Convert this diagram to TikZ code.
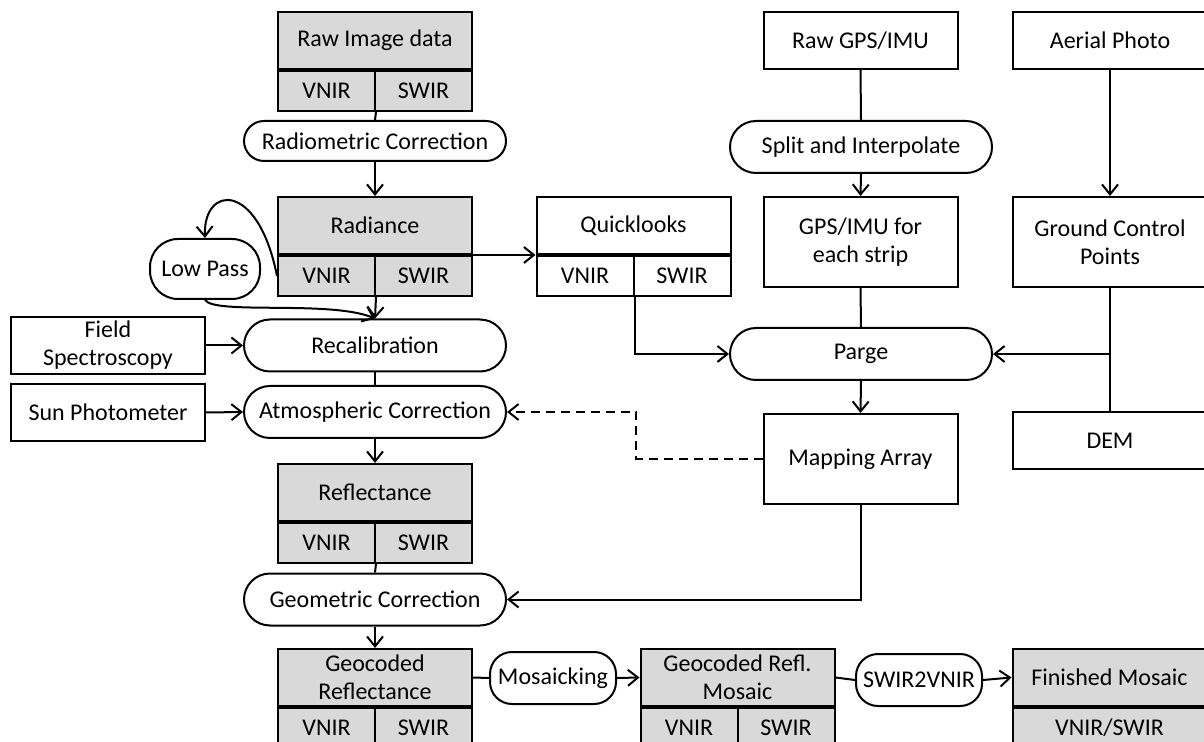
\documentclass[tikz,border=0pt]{standalone}
\usepackage{fontspec}
\setmainfont{Carlito}
\usetikzlibrary{arrows.meta,positioning}

\definecolor{bandgray}{HTML}{D9D9D9}
\tikzset{
  box/.style={draw,line width=1pt,minimum width=97pt,minimum height=28.5pt,inner sep=1pt,align=center},
  tallbox/.style={box,minimum height=45pt},
  half/.style={box,minimum width=48.5pt,minimum height=20pt},
  proc/.style={draw,line width=1pt,rounded corners=13pt,minimum width=131pt,minimum height=26pt,inner sep=1pt,align=center},
  smallproc/.style={proc,rounded corners=11pt,minimum width=63pt},
  arr/.style={line width=1pt,-{Straight Barb[length=5pt,width=8pt]}},
  link/.style={line width=1pt},
}

\begin{document}
\begin{tikzpicture}[x=0.5pt,y=-0.5pt,font=\fontsize{12}{14}\selectfont]
\clip (0,0) rectangle (1204,742);

% image chain
\node[box,fill=bandgray] (raw) at (375,40.5) {Raw Image data};
\node[proc,minimum height=20pt,rounded corners=10pt] (radcor) at (375,141) {Radiometric Correction};
\node[box,fill=bandgray] (rad) at (375,225.5) {Radiance};
\node[smallproc,minimum width=55pt,minimum height=30pt,rounded corners=14pt] (lp) at (205,269) {Low Pass};
\node[proc] (recal) at (375,345.5) {Recalibration};
\node[proc] (atmos) at (375,412) {Atmospheric Correction};
\node[box,fill=bandgray] (refl) at (375,492.5) {Reflectance};
\node[proc] (geo) at (375,599.5) {Geometric Correction};
\node[box,fill=bandgray] (georefl) at (375,677.5) {Geocoded\\Reflectance};
\node[smallproc] (mosaicking) at (553,678) {Mosaicking};
\node[box,fill=bandgray] (mosaic) at (737.5,677.5) {Geocoded Refl.\\Mosaic};
\node[smallproc] (s2v) at (919,680) {SWIR2VNIR};
\node[box,fill=bandgray] (fin) at (1109.5,677.5) {Finished Mosaic};
\node[box,fill=bandgray,minimum height=20pt,anchor=north] (fin-vs) at (fin.south) {VNIR/SWIR};

\foreach \n in {raw,rad,refl,georefl,mosaic} {
  \node[half,fill=bandgray,anchor=north west] (\n-v) at (\n.south west) {VNIR};
  \node[half,fill=bandgray,anchor=north east] (\n-s) at (\n.south east) {SWIR};
}

% ground data
\node[box] (field) at (108,345.5) {Field\\Spectroscopy};
\node[box] (sun) at (108,412.5) {Sun Photometer};

% navigation chain
\node[box] (ql) at (633.5,225.5) {Quicklooks};
\node[half,anchor=north west] (ql-v) at (ql.south west) {VNIR};
\node[half,anchor=north east] (ql-s) at (ql.south east) {SWIR};
\node[box] (rawgps) at (860.5,40.5) {Raw GPS/IMU};
\node[proc] (split) at (861,147) {Split and Interpolate};
\node[tallbox] (strip) at (860.5,242) {GPS/IMU for\\each strip};
\node[proc] (parge) at (861,354) {Parge};
\node[tallbox] (map) at (860.5,459) {Mapping Array};
\node[box] (aerial) at (1110,40.5) {Aerial Photo};
\node[tallbox] (gcp) at (1110,242) {Ground Control\\Points};
\node[box] (dem) at (1110,440.5) {DEM};

\draw[link] (raw-v.south east) -- (radcor.north);
\draw[arr] (radcor.south) -- (rad.north);
\draw[arr] (rad-v.west) .. controls (258,180) and (203,185) .. (lp.north);
\draw[arr] (lp.south) .. controls (215,315) and (330,300) .. (recal.north);
\draw[arr] (rad-v.south east) -- (recal.north);
\draw[arr] (rad-s.north east) -- (ql-v.north west);
\draw[arr] (field.east) -- (recal.west);
\draw[link] (recal.south) -- (atmos.north);
\draw[arr] (sun.east) -- (atmos.west);
\draw[arr] (atmos.south) -- (refl.north);
\draw[link] (refl-v.south east) -- (geo.north);
\draw[arr] (geo.south) -- (georefl.north);
\draw[link] (georefl.east) -- (mosaicking.west);
\draw[arr] (mosaicking.east) -- (mosaic.west);
\draw[link] (mosaic.east) -- (s2v.west);
\draw[arr] (s2v.east) -- (fin.west);

\draw[link] (rawgps.south) -- (split.north);
\draw[arr] (split.south) -- (strip.north);
\draw[link] (strip.south) -- (parge.north);
\draw[arr] (ql-v.south east) |- (parge.west);
\draw[arr] (aerial.south) -- (gcp.north);
\draw[link] (gcp.south) -- (dem.north);
\coordinate (gcpjoin) at (gcp.south |- parge.east);
\draw[arr] (gcpjoin) -- (parge.east);
\draw[arr] (parge.south) -- (map.north);
\coordinate (dashbend) at (636,459);
\draw[arr,dash pattern=on 4.5pt off 3pt] (map.west) -- (dashbend) |- (atmos.east);
\draw[arr] (map.south) |- (geo.east);
\end{tikzpicture}
\end{document}
